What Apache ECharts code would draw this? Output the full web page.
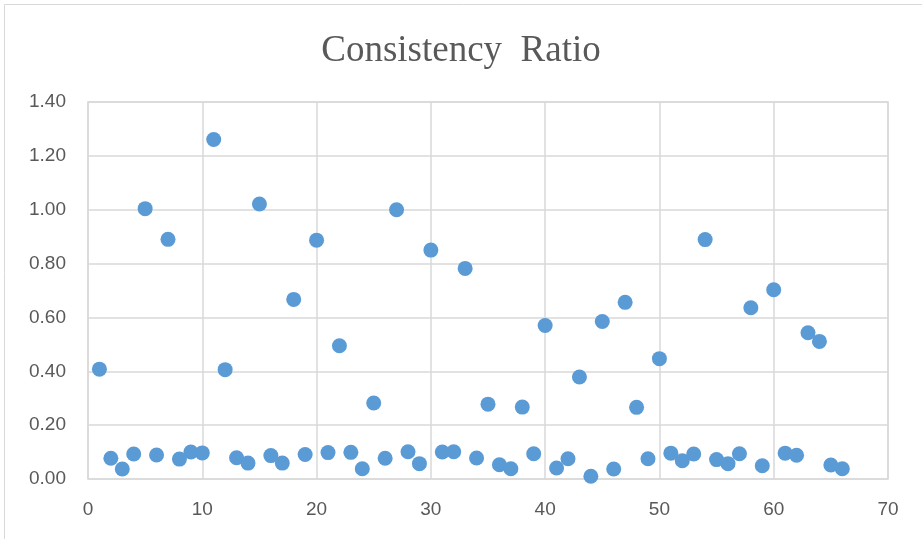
<!DOCTYPE html>
<html>
<head>
<meta charset="utf-8">
<script src="https://cdn.jsdelivr.net/npm/echarts@6/dist/echarts.min.js"></script>
<style>html,body{margin:0;padding:0;background:#fff}#c{width:922px;height:539px}</style>
</head>
<body>
<div id="c"></div>
<script>
var titleText = "Consistency  Ratio";
var xTicks = [0, 10, 20, 30, 40, 50, 60, 70];
var yTicks = ["0.00","0.20","0.40","0.60","0.80","1.00","1.20","1.40"];
var ids = [];
for (var i = 1; i <= 66; i++) ids.push(i);
var ratios = [
  0.408, 0.077, 0.037, 0.093, 1.004, 0.089, 0.890, 0.074, 0.100, 0.097,
  1.261, 0.406, 0.079, 0.059, 1.021, 0.087, 0.059, 0.667, 0.091, 0.887,
  0.098, 0.495, 0.099, 0.038, 0.282, 0.077, 1.000, 0.101, 0.057, 0.850,
  0.100, 0.101, 0.782, 0.078, 0.278, 0.053, 0.038, 0.267, 0.094, 0.570,
  0.041, 0.075, 0.379, 0.010, 0.585, 0.037, 0.656, 0.266, 0.075, 0.447,
  0.096, 0.068, 0.093, 0.889, 0.072, 0.057, 0.094, 0.636, 0.049, 0.703,
  0.096, 0.088, 0.543, 0.511, 0.052, 0.038
];
var points = ids.map(function (x, k) { return [x, ratios[k]]; });

var chart = echarts.init(document.getElementById('c'));
chart.setOption({
  animation: false,
  backgroundColor: '#fff',
  title: {
    text: titleText,
    left: 'center',
    top: 28,
    textStyle: { fontFamily: 'Liberation Serif', fontWeight: 'normal', fontSize: 37, color: '#595959' }
  },
  graphic: [{
    type: 'rect',
    shape: { x: 4.5, y: 4.5, width: 940, height: 560 },
    style: { fill: 'none', stroke: '#d9d9d9', lineWidth: 1 },
    silent: true
  }],
  grid: { left: 88, right: 34, top: 102, bottom: 60, show: true, borderColor: '#d9d9d9', borderWidth: 1.5 },
  xAxis: {
    type: 'value', min: 0, max: 70, interval: 10,
    axisLine: { show: false }, axisTick: { show: false },
    splitLine: { show: true, lineStyle: { color: '#d9d9d9', width: 1.5 } },
    axisLabel: { fontFamily: 'Liberation Sans', fontSize: 19, color: '#595959', margin: 21,
      formatter: function (v) { return xTicks.indexOf(v) >= 0 ? String(v) : ''; } }
  },
  yAxis: {
    type: 'value', min: 0, max: 1.4, interval: 0.2,
    axisLine: { show: false }, axisTick: { show: false },
    splitLine: { show: true, lineStyle: { color: '#d9d9d9', width: 1.5 } },
    axisLabel: { fontFamily: 'Liberation Sans', fontSize: 19, color: '#595959', margin: 22,
      formatter: function (v) { return yTicks[Math.round(v / 0.2)]; } }
  },
  series: [{
    type: 'scatter',
    data: points,
    symbol: 'circle',
    symbolSize: 15,
    itemStyle: { color: '#5b9bd5', opacity: 1 }
  }]
});
</script>
</body>
</html>
